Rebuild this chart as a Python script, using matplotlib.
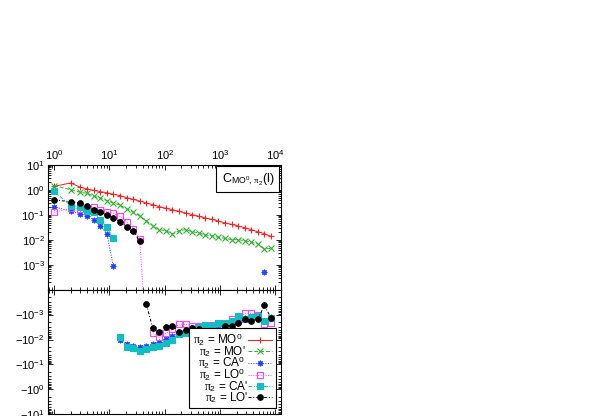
import numpy as np
import matplotlib
matplotlib.use("Agg")
import matplotlib.pyplot as plt
from matplotlib.ticker import FixedLocator, FuncFormatter, LogLocator, NullFormatter

plt.rcParams["font.family"] = ["Liberation Sans", "DejaVu Sans"]
plt.rcParams["mathtext.fontset"] = "custom"
plt.rcParams["mathtext.rm"] = "Liberation Sans"
plt.rcParams["mathtext.it"] = "Liberation Serif"
plt.rcParams["mathtext.bf"] = "Liberation Sans:bold"

nan = np.nan

# distance l (log binned)
l = [1, 2, 3.0, 3.97, 5.21, 6.85, 9.0, 11.8, 15.6, 20.4, 26.9, 35.3, 46.3,
     60.9, 80.0, 105, 138, 182, 239, 313, 412, 541, 711, 935, 1228, 1613,
     2120, 2786, 3661, 4810, 6320, 8300]

# correlation values, nan = no point
mo0 = [1.40, 1.91, 1.28, 1.10, 0.97, 0.857, 0.782, 0.671, 0.593, 0.493, 0.424,
       0.363, 0.302, 0.259, 0.215, 0.185, 0.163, 0.140, 0.120, 0.103, 0.0885,
       0.0759, 0.0671, 0.0575, 0.0479, 0.0424, 0.0363, 0.0311, 0.0259, 0.0215,
       0.0179, 0.0140]
mo1 = [1.49, 1.03, 0.807, 0.736, 0.558, 0.479, 0.374, 0.302, 0.251, 0.174,
       0.136, 0.0885, 0.0593, 0.0374, 0.0259, 0.0236, 0.0174, 0.0236, 0.0259,
       0.0215, 0.0191, 0.0158, 0.0149, 0.0128, 0.0117, 0.0103, 0.0103, 0.0094,
       0.0081, 0.0069, 0.0044, 0.0046]
ca0 = [0.215, 0.140, 0.110, 0.094, 0.065, 0.0374, 0.0174, 0.000885,
       -0.0105, -0.0151, -0.0182, -0.0195, -0.0178, -0.0151, -0.0120, -0.0091,
       -0.0071, -0.0056, -0.0056, -0.0048, -0.0041, -0.0039, -0.0033, -0.0026,
       -0.0022, -0.0022, -0.0017, -0.0013, -0.0012, -0.0013, 0.00051, -0.0012]
lo0 = [0.128, 0.185, 0.174, 0.158, 0.203, 0.163, 0.136, 0.117, 0.0885, 0.054,
       0.0275, 0.011, 1e-6, -0.0052, -0.0081, -0.0056, -0.0039, -0.0024,
       -0.0024, -0.0028, -0.0028, -0.0032, -0.0025, -0.0022, -0.0021, -0.0015,
       -0.0015, -0.00087, -0.00087, -0.0010, -0.0023, -0.0021]
ca1 = [0.885, 0.236, 0.215, 0.149, 0.136, 0.063, 0.0321, 0.0117,
       -0.0076, -0.0195, -0.0224, -0.0282, -0.0245, -0.0204, -0.0178, -0.0132,
       -0.0105, -0.0062, -0.0052, -0.0039, -0.0032, -0.0026, -0.0028, -0.0022,
       -0.0021, -0.0017, -0.0011, -0.0015, -0.0012, -0.0011, -0.0017, -0.0013]
lo1 = [0.398, 0.341, 0.302, 0.222, 0.163, 0.128, 0.103, 0.0736, 0.054, 0.0341,
       0.0236, 0.00885, -0.00036, -0.0035, -0.0051, -0.0032, -0.0028, -0.0048,
       -0.0041, -0.0035, -0.0037, -0.0052, -0.0052, -0.0044, -0.0028, -0.0028,
       -0.0021, -0.0015, -0.0017, -0.0015, -0.00042, -0.0013]

labels = [r"$\pi_2$ = MO$^0$", r"$\pi_2$ = MO'", r"$\pi_2$ = CA$^0$",
          r"$\pi_2$ = LO$^0$", r"$\pi_2$ = CA'", r"$\pi_2$ = LO'"]
series = [mo0, mo1, ca0, lo0, ca1, lo1]

styles = [
    dict(color="#ff2020", marker="+", ms=5, ls="-"),
    dict(color="#30b030", marker="x", ms=4, ls=(0, (4, 2))),
    dict(color="#2040ff", marker=(8, 2, 0), ms=4, ls=(0, (1, 1.5))),
    dict(color="#ff40ff", marker="s", ms=4.2, ls=(0, (1, 1.5)), mfc="none"),
    dict(color="#10c0c0", marker="s", ms=3.8, ls=(0, (4, 1.5, 1, 1.5))),
    dict(color="black", marker="o", ms=4, ls=(0, (3, 2, 1, 2))),
]

fig = plt.figure(figsize=(5.94, 4.16), dpi=100)
ax1 = fig.add_axes([0.0808, 0.3029, 0.3931, 0.3005])
ax2 = fig.add_axes([0.0808, 0.0048, 0.3931, 0.2981])

for vals, lab, st in zip(series, labels, styles):
    v = np.array(vals, dtype=float)
    pos = np.where(v > 0, v, nan)
    neg = np.where(v < 0, -v, nan)
    ax1.plot(l, pos, lw=0.7, mew=0.8, **st)
    ax2.plot(l, neg, lw=0.7, mew=0.8, label=lab, **st)

for ax in (ax1, ax2):
    ax.set_xscale("log")
    ax.set_yscale("log")
    ax.set_xlim(10 ** -0.11, 10 ** 4.11)
    ax.xaxis.set_major_locator(FixedLocator([1, 10, 100, 1000, 10000]))
    ax.xaxis.set_minor_locator(LogLocator(base=10, subs=np.arange(2, 10)))
    ax.yaxis.set_major_locator(FixedLocator([1e-4, 1e-3, 1e-2, 1e-1, 1, 10]))
    ax.yaxis.set_minor_locator(LogLocator(base=10, subs=np.arange(2, 10)))
    ax.xaxis.set_minor_formatter(NullFormatter())
    ax.yaxis.set_minor_formatter(NullFormatter())
    ax.tick_params(which="both", direction="in", top=True, right=True,
                   labelsize=8, width=0.6, pad=2.5)
    ax.tick_params(which="major", length=3.5)
    ax.tick_params(which="minor", length=2)
    for s in ax.spines.values():
        s.set_linewidth(0.8)

ax1.set_ylim(1e-4, 10)
ax2.set_ylim(10, 1e-4)

ax1.tick_params(axis="x", labeltop=True, labelbottom=False)
ax2.tick_params(axis="x", labeltop=False, labelbottom=False)

ax1.xaxis.set_major_formatter(FuncFormatter(lambda v, p: r"$10^{%d}$" % round(np.log10(v))))
ax1.yaxis.set_major_formatter(FuncFormatter(
    lambda v, p: "" if v < 5e-4 else r"$10^{%d}$" % round(np.log10(v))))
ax2.yaxis.set_major_formatter(FuncFormatter(
    lambda v, p: "" if v < 5e-4 else r"$-10^{%d}$" % round(np.log10(v))))

ax1.text(0.968, 0.95, r"C$_{\mathrm{MO}^0,\,\pi_2}$(l)", transform=ax1.transAxes,
         ha="right", va="top", fontsize=9,
         bbox=dict(boxstyle="square,pad=0.42", fc="white", ec="black", lw=0.8))

leg = ax2.legend(loc="lower right", markerfirst=False, fontsize=8.5,
                 frameon=True, fancybox=False, edgecolor="black", framealpha=1,
                 handlelength=2.0, handletextpad=0.5, labelspacing=-0.35,
                 borderpad=0.3, borderaxespad=0.5)
leg.get_frame().set_linewidth(0.8)

# right-align the legend texts
fig.canvas.draw()
widths = [t.get_window_extent().width for t in leg.get_texts()]
for t, w in zip(leg.get_texts(), widths):
    t.set_position((max(widths) - w, 0))

fig.savefig("out.png", dpi=100)
